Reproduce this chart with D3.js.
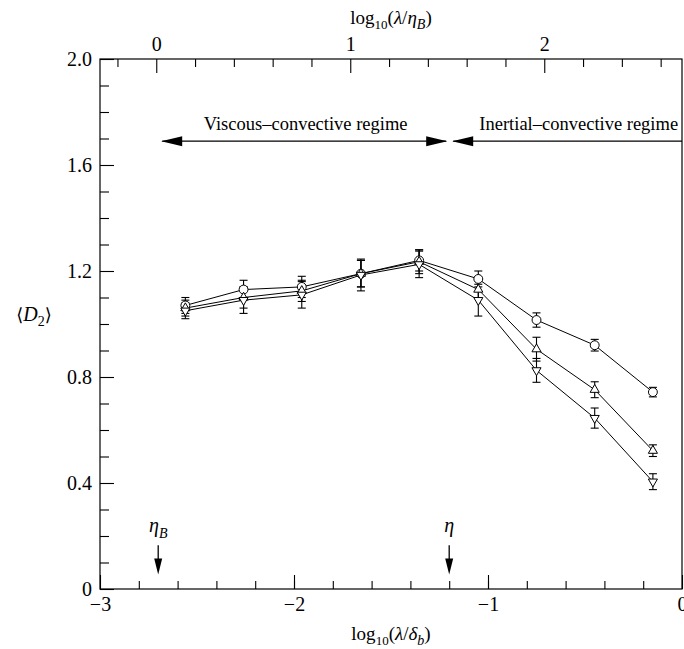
<!DOCTYPE html>
<html>
<head>
<meta charset="utf-8">
<script src="https://cdn.jsdelivr.net/npm/d3@7"></script>
<style>
  html, body { margin: 0; padding: 0; background: #fff; }
  svg { display: block; font-family: "Liberation Serif", "Times New Roman", serif; }
</style>
</head>
<body>
<svg id="chart" width="684" height="649"></svg>
<script>
// Separation scale log10(λ/δb) of the sampled points (factor-of-two steps)
const scaleX = [-2.56, -2.26, -1.96, -1.655, -1.355, -1.05, -0.75, -0.45, -0.15];

// Mean correlation dimension ⟨D2⟩ and error half-widths, three data sets
const circleVals = [1.07, 1.13, 1.14, 1.19, 1.24, 1.17, 1.015, 0.92, 0.743];
const circleErr  = [0.03, 0.035, 0.04, 0.05, 0.04, 0.03, 0.027, 0.022, 0.018];
const upVals     = [1.06, 1.10, 1.125, 1.19, 1.235, 1.13, 0.905, 0.752, 0.522];
const upErr      = [0.03, 0.04, 0.04, 0.05, 0.045, 0.035, 0.045, 0.03, 0.022];
const downVals   = [1.05, 1.09, 1.11, 1.185, 1.225, 1.09, 0.825, 0.645, 0.405];
const downErr    = [0.03, 0.05, 0.05, 0.06, 0.05, 0.06, 0.045, 0.038, 0.03];

// Axis ticks
const bottomTicks = [-3, -2, -1, 0];
const topTicks = [0, 1, 2];
const yTicks = [0, 0.4, 0.8, 1.2, 1.6, 2.0];
const yTickLabels = ["0", "0.4", "0.8", "1.2", "1.6", "2.0"];

// Offset between the two abscissae: log10(λ/ηB) = log10(λ/δb) + offset
const topOffset = 2.71;
// Characteristic scales marked on the axis
const etaB = -2.70;
const eta = -1.20;
const regimeLevel = 1.69;

const svg = d3.select("#chart");
const plot = { left: 100, right: 682, top: 59, bottom: 589 };

const x = d3.scaleLinear().domain([-3, 0]).range([plot.left, plot.right]);
const xTop = d3.scaleLinear().domain([-3 + topOffset, topOffset]).range([plot.left, plot.right]);
const y = d3.scaleLinear().domain([0, 2]).range([plot.bottom, plot.top]);

const stroke = "#000";
const tickFont = 20;

// Frame
svg.append("rect")
  .attr("x", plot.left).attr("y", plot.top)
  .attr("width", plot.right - plot.left).attr("height", plot.bottom - plot.top)
  .attr("fill", "none").attr("stroke", stroke).attr("stroke-width", 1.2);

function styleAxis(g) {
  g.select(".domain").remove();
  g.selectAll(".tick line").attr("stroke", stroke).attr("stroke-width", 1.1);
  g.selectAll(".tick text").attr("fill", stroke).attr("font-size", tickFont)
    .attr("font-family", "Liberation Serif, serif");
}

// Bottom axis: majors labelled, minors every 0.2
svg.append("g").attr("transform", `translate(0,${plot.bottom})`)
  .call(d3.axisBottom(x).tickValues(d3.range(-2.8, 0, 0.2)).tickSize(-8).tickFormat(""))
  .call(styleAxis);
svg.append("g").attr("transform", `translate(0,${plot.bottom})`)
  .call(d3.axisBottom(x).tickValues(bottomTicks).tickSize(-14).tickPadding(8).tickFormat(d3.format("d")))
  .call(styleAxis);

// Top axis in log10(λ/ηB)
svg.append("g").attr("transform", `translate(0,${plot.top})`)
  .call(d3.axisTop(xTop).tickValues(d3.range(-0.2, 2.7, 0.2).filter(v => Math.abs(v - Math.round(v)) > 1e-6)).tickSize(-8).tickFormat(""))
  .call(styleAxis);
svg.append("g").attr("transform", `translate(0,${plot.top})`)
  .call(d3.axisTop(xTop).tickValues(topTicks).tickSize(-14).tickPadding(8).tickFormat(d3.format("d")))
  .call(styleAxis);

// Left axis
svg.append("g").attr("transform", `translate(${plot.left},0)`)
  .call(d3.axisLeft(y).tickValues(d3.range(0.1, 2.0, 0.1).filter((v, i) => (i + 1) % 4 !== 0)).tickSize(-9).tickFormat(""))
  .call(styleAxis);
svg.append("g").attr("transform", `translate(${plot.left},0)`)
  .call(d3.axisLeft(y).tickValues(yTicks).tickSize(-14).tickPadding(8).tickFormat((d, i) => yTickLabels[i]))
  .call(styleAxis);

// Axis titles
function logTitle(g, sym, sub) {
  g.append("tspan").text("log");
  g.append("tspan").attr("font-size", 13).attr("dy", 5).text("10");
  g.append("tspan").attr("dy", -5).text("(");
  g.append("tspan").attr("font-style", "italic").text("λ");
  g.append("tspan").text("/");
  g.append("tspan").attr("font-style", "italic").text(sym);
  g.append("tspan").attr("font-style", "italic").attr("font-size", 14).attr("dy", 5).text(sub);
  g.append("tspan").attr("dy", -5).text(")");
}
logTitle(svg.append("text").attr("x", (plot.left + plot.right) / 2).attr("y", 640)
  .attr("text-anchor", "middle").attr("font-size", 19), "δ", "b");
logTitle(svg.append("text").attr("x", (plot.left + plot.right) / 2).attr("y", 24)
  .attr("text-anchor", "middle").attr("font-size", 19), "η", "B");

const yl = svg.append("text").attr("x", 34).attr("y", y(1.035) + 6).attr("text-anchor", "middle").attr("font-size", 20);
yl.append("tspan").attr("font-family", "DejaVu Serif, serif").attr("font-size", 18).text("⟨");
yl.append("tspan").attr("font-style", "italic").text("D");
yl.append("tspan").attr("font-size", 14).attr("dy", 5).text("2");
yl.append("tspan").attr("dy", -5).attr("font-family", "DejaVu Serif, serif").attr("font-size", 18).text("⟩");

// Regime arrows
function arrowHead(px, py, dir, len, half) {
  // dir: +1 points right, -1 points left
  return `M${px},${py}L${px - dir * len},${py - half}L${px - dir * len},${py + half}Z`;
}
const ay = y(regimeLevel);
svg.append("line").attr("x1", x(etaB) + 4).attr("x2", x(eta) - 3).attr("y1", ay).attr("y2", ay)
  .attr("stroke", stroke).attr("stroke-width", 1.3);
svg.append("path").attr("d", arrowHead(x(etaB) + 3, ay, -1, 21, 5)).attr("fill", stroke);
svg.append("path").attr("d", arrowHead(x(eta) - 2, ay, 1, 21, 5)).attr("fill", stroke);
svg.append("line").attr("x1", x(eta) + 4).attr("x2", plot.right).attr("y1", ay).attr("y2", ay)
  .attr("stroke", stroke).attr("stroke-width", 1.3);
svg.append("path").attr("d", arrowHead(x(eta) + 3, ay, -1, 21, 5)).attr("fill", stroke);

svg.append("text").attr("x", x(-1.94)).attr("y", ay - 11).attr("text-anchor", "middle")
  .attr("font-size", 18.5).text("Viscous–convective regime");
svg.append("text").attr("x", x(-0.02)).attr("y", ay - 11).attr("text-anchor", "end")
  .attr("font-size", 18.5).text("Inertial–convective regime");

// Scale markers ηB and η
function downArrow(xv, label, sub) {
  const px = x(xv);
  const top = y(0.165), tip = y(0.055);
  svg.append("line").attr("x1", px).attr("x2", px).attr("y1", top).attr("y2", tip - 12)
    .attr("stroke", stroke).attr("stroke-width", 1.3);
  svg.append("path").attr("d", `M${px},${tip}L${px - 4},${tip - 16}L${px + 4},${tip - 16}Z`).attr("fill", stroke);
  const t = svg.append("text").attr("x", px).attr("y", top - 13).attr("text-anchor", "middle").attr("font-size", 20);
  t.append("tspan").attr("font-style", "italic").text(label);
  if (sub) t.append("tspan").attr("font-style", "italic").attr("font-size", 14).attr("dy", 6).text(sub);
}
downArrow(etaB, "η", "B");
downArrow(eta, "η", null);

// Data series
const series = [
  { vals: circleVals, err: circleErr, sym: d3.symbolCircle, size: 62, rot: 0 },
  { vals: upVals, err: upErr, sym: d3.symbolTriangle, size: 36, rot: 0 },
  { vals: downVals, err: downErr, sym: d3.symbolTriangle, size: 36, rot: 180 }
];

const line = d3.line().x((d, i) => x(scaleX[i])).y(d => y(d));
series.forEach(s => {
  svg.append("path").attr("d", line(s.vals)).attr("fill", "none")
    .attr("stroke", stroke).attr("stroke-width", 1);
});

series.forEach(s => {
  const g = svg.append("g");
  s.vals.forEach((v, i) => {
    const px = x(scaleX[i]);
    const y0 = y(v - s.err[i]), y1 = y(v + s.err[i]);
    g.append("line").attr("x1", px).attr("x2", px).attr("y1", y0).attr("y2", y1)
      .attr("stroke", stroke).attr("stroke-width", 1.1);
    [y0, y1].forEach(yy => g.append("line").attr("x1", px - 4).attr("x2", px + 4)
      .attr("y1", yy).attr("y2", yy).attr("stroke", stroke).attr("stroke-width", 1.1));
  });
});

series.forEach(s => {
  svg.append("g").selectAll("path").data(s.vals).join("path")
    .attr("d", d3.symbol().type(s.sym).size(s.size))
    .attr("transform", (d, i) => `translate(${x(scaleX[i])},${y(d)}) rotate(${s.rot})`)
    .attr("fill", "#fff").attr("stroke", stroke).attr("stroke-width", 1);
});
</script>
</body>
</html>
